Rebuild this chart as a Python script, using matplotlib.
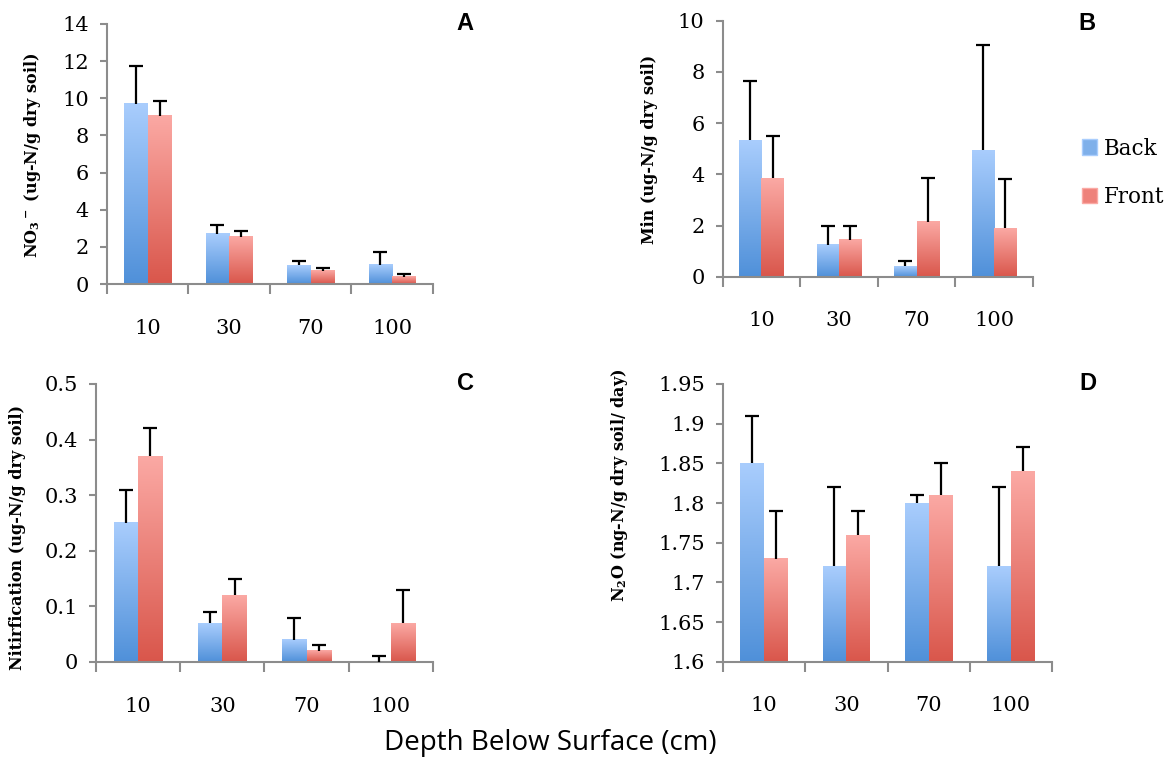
import numpy as np
import matplotlib
matplotlib.use("Agg")
import matplotlib.pyplot as plt
from matplotlib.colors import LinearSegmentedColormap
from matplotlib.patches import Patch

depths = ["10", "30", "70", "100"]
series = ["Back", "Front"]

# panel A: NO3-
no3_back = [9.7, 2.7, 1.0, 1.05]
no3_back_err = [2.05, 0.5, 0.25, 0.7]
no3_front = [9.05, 2.55, 0.7, 0.4]
no3_front_err = [0.8, 0.3, 0.15, 0.15]

# panel B: Min
min_back = [5.35, 1.25, 0.4, 4.95]
min_back_err = [2.3, 0.75, 0.2, 4.1]
min_front = [3.85, 1.45, 2.15, 1.9]
min_front_err = [1.65, 0.55, 1.7, 1.9]

# panel C: nitrification
nit_back = [0.25, 0.07, 0.04, 0.0]
nit_back_err = [0.06, 0.02, 0.04, 0.01]
nit_front = [0.37, 0.12, 0.02, 0.07]
nit_front_err = [0.05, 0.03, 0.01, 0.06]

# panel D: N2O
n2o_back = [1.85, 1.72, 1.80, 1.72]
n2o_back_err = [0.06, 0.10, 0.01, 0.10]
n2o_front = [1.73, 1.76, 1.81, 1.84]
n2o_front_err = [0.06, 0.03, 0.04, 0.03]

plt.rcParams["mathtext.default"] = "regular"
SERIF = "DejaVu Serif"
GRAY = "#8c8c8c"

blue_cm = LinearSegmentedColormap.from_list("b", ["#4f90d9", "#a9cdfd"])
red_cm = LinearSegmentedColormap.from_list("r", ["#d9564b", "#fba9a4"])

fig = plt.figure(figsize=(11.73, 7.59), dpi=100)


def gradient_bars(ax, bars, cmap):
    grad = np.linspace(0, 1, 256).reshape(-1, 1)
    for b in bars:
        x0, y0 = b.get_x(), b.get_y()
        w, h = b.get_width(), b.get_height()
        b.set_visible(False)
        if h == 0:
            continue
        ax.imshow(grad, cmap=cmap, origin="lower", aspect="auto",
                  extent=(x0, x0 + w, y0, y0 + h), zorder=2)


def panel(rect, back, back_err, front, front_err, ylim, yticks,
          ylabel, ylabel_xy, letter, letter_xy):
    ax = fig.add_axes(rect)
    x = np.arange(1, len(depths) + 1)
    w = 0.29
    base = ylim[0]
    bb = ax.bar(x - w / 2, np.array(back) - base, w, bottom=base, zorder=2)
    bf = ax.bar(x + w / 2, np.array(front) - base, w, bottom=base, zorder=2)
    gradient_bars(ax, bb, blue_cm)
    gradient_bars(ax, bf, red_cm)
    for xs, v, e in [(x - w / 2, back, back_err), (x + w / 2, front, front_err)]:
        _, caps, _ = ax.errorbar(xs, v, yerr=[np.zeros(len(v)), e], fmt="none",
                                 ecolor="black", elinewidth=1.6, capsize=5,
                                 capthick=1.6, zorder=3)
        caps[0].set_visible(False)  # only the upper cap
    ax.set_xlim(0.5, len(depths) + 0.5)
    ax.set_ylim(*ylim)
    ax.set_yticks(yticks)
    ax.set_yticklabels([f"{t:g}" for t in yticks], fontfamily=SERIF, fontsize=15)
    ax.set_xticks(x)
    ax.set_xticklabels(depths, fontfamily=SERIF, fontsize=15)
    ax.set_xticks(np.arange(0.5, len(depths) + 1), minor=True)
    ax.tick_params(axis="x", which="major", length=0, pad=25)
    ax.tick_params(axis="x", which="minor", length=7, width=1.5, color=GRAY)
    ax.tick_params(axis="y", length=5, width=1.5, color=GRAY, pad=8)
    for s in ["top", "right"]:
        ax.spines[s].set_visible(False)
    for s in ["left", "bottom"]:
        ax.spines[s].set_color(GRAY)
        ax.spines[s].set_linewidth(1.5)
    fig.text(ylabel_xy[0] / 1173, 1 - ylabel_xy[1] / 759, ylabel, rotation=90,
             family=SERIF, fontweight="bold", fontsize=11.5, ha="center", va="center")
    fig.text(letter_xy[0] / 1173, 1 - letter_xy[1] / 759, letter, fontsize=17,
             fontweight="bold", family="Liberation Sans", ha="center", va="center")
    return ax


panel([0.0912, 0.6258, 0.2779, 0.3426], no3_back, no3_back_err, no3_front, no3_front_err,
      (0, 14), np.arange(0, 15, 2),
      r"NO$_3$$^-$ (ug-N/g dry soil)", (33, 155), "A", (465, 23))
panel([0.6161, 0.6354, 0.2645, 0.3373], min_back, min_back_err, min_front, min_front_err,
      (0, 10), np.arange(0, 11, 2),
      "Min (ug-N/g dry soil)", (650, 149), "B", (1087, 23))
panel([0.0818, 0.1278, 0.2873, 0.3663], nit_back, nit_back_err, nit_front, nit_front_err,
      (0, 0.5), np.round(np.arange(0, 0.51, 0.1), 1),
      "Nitirfication (ug-N/g dry soil)", (18, 537), "C", (465, 384))
panel([0.6164, 0.1282, 0.2805, 0.3659], n2o_back, n2o_back_err, n2o_front, n2o_front_err,
      (1.6, 1.95), np.round(np.arange(1.6, 1.951, 0.05), 2),
      r"N$_2$O (ng-N/g dry soil/ day)", (620, 485), "D", (1088, 384))

handles = [Patch(facecolor="#7fb0ea", edgecolor="#a9cdfd"),
           Patch(facecolor="#ee817a", edgecolor="#fba9a4")]
fig.legend(handles, series, loc="center left", bbox_to_anchor=(1082 / 1173, 1 - 173 / 759),
           frameon=False, prop={"family": SERIF, "size": 15.5}, borderpad=0, borderaxespad=0,
           handlelength=0.7, handleheight=0.7, handletextpad=0.3, labelspacing=1.25)

fig.text(550 / 1173, 1 - 743 / 759, "Depth Below Surface (cm)", fontsize=20,
         family="Open Sans", ha="center", va="center")

fig.savefig("out.png", dpi=100)
